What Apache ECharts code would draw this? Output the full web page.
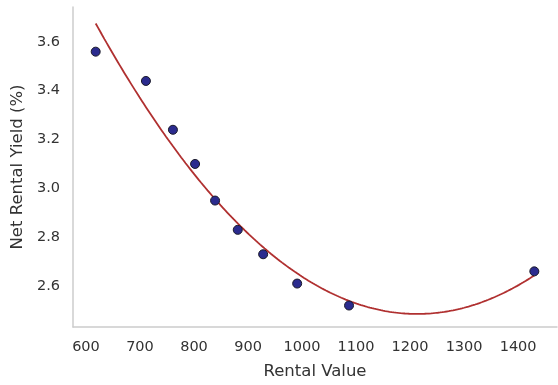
<!DOCTYPE html>
<html>
<head>
<meta charset="utf-8">
<script src="https://cdn.jsdelivr.net/npm/echarts@6/dist/echarts.min.js"></script>
<style>
  html, body { margin: 0; padding: 0; background: #fff; }
  #chart { width: 558px; height: 385px; }
</style>
</head>
<body>
<div id="chart"></div>
<script>
// Observed rental value vs. net rental yield
const rentalValue = [618, 711, 761, 802, 839, 881, 928, 991, 1087, 1430];
const netYield = [3.56, 3.44, 3.24, 3.10, 2.95, 2.83, 2.73, 2.61, 2.52, 2.66];
const yTicks = [2.6, 2.8, 3.0, 3.2, 3.4, 3.6];
const xTicks = [600, 700, 800, 900, 1000, 1100, 1200, 1300, 1400];

// Least-squares quadratic trend through the observations
function quadFit(xs, ys) {
  const n = xs.length;
  const m = xs.reduce((a, b) => a + b, 0) / n;
  const s = xs.map(x => (x - m) / 100);
  let S = [0, 0, 0, 0, 0], T = [0, 0, 0];
  for (let i = 0; i < n; i++) {
    for (let k = 0; k < 5; k++) S[k] += Math.pow(s[i], k);
    for (let k = 0; k < 3; k++) T[k] += ys[i] * Math.pow(s[i], k);
  }
  const A = [[S[0], S[1], S[2], T[0]], [S[1], S[2], S[3], T[1]], [S[2], S[3], S[4], T[2]]];
  for (let c = 0; c < 3; c++) {
    for (let r = c + 1; r < 3; r++) {
      const f = A[r][c] / A[c][c];
      for (let k = c; k < 4; k++) A[r][k] -= f * A[c][k];
    }
  }
  const coef = [0, 0, 0];
  for (let r = 2; r >= 0; r--) {
    let v = A[r][3];
    for (let k = r + 1; k < 3; k++) v -= A[r][k] * coef[k];
    coef[r] = v / A[r][r];
  }
  return x => { const t = (x - m) / 100; return coef[0] + coef[1] * t + coef[2] * t * t; };
}
const trend = quadFit(rentalValue, netYield);
const xLo = Math.min(...rentalValue), xHi = Math.max(...rentalValue);
const trendLine = [];
for (let i = 0; i <= 200; i++) {
  const x = xLo + (xHi - xLo) * i / 200;
  trendLine.push([x, trend(x)]);
}

const font = 'DejaVu Sans';
const chart = echarts.init(document.getElementById('chart'), null, { renderer: 'canvas' });
chart.setOption({
  animation: false,
  backgroundColor: '#ffffff',
  grid: { left: 73, right: 1, top: 7, bottom: 58, containLabel: false },
  xAxis: {
    type: 'value',
    min: 576, max: 1472,
    name: 'Rental Value',
    nameLocation: 'middle',
    nameGap: 36,
    nameTextStyle: { fontFamily: font, fontSize: 16.5, color: '#333333' },
    axisLine: { show: true, lineStyle: { color: '#cccccc', width: 1.5 } },
    axisTick: { show: false },
    splitLine: { show: false },
    axisLabel: {
      fontFamily: font, fontSize: 14.5, color: '#333333', margin: 13,
      customValues: xTicks,
      formatter: v => String(v)
    }
  },
  yAxis: {
    type: 'value',
    min: 2.432, max: 3.743,
    name: 'Net Rental Yield (%)',
    nameLocation: 'middle',
    nameGap: 47,
    nameTextStyle: { fontFamily: font, fontSize: 16.5, color: '#333333' },
    axisLine: { show: true, lineStyle: { color: '#cccccc', width: 1.5 } },
    axisTick: { show: false },
    splitLine: { show: false },
    axisLabel: {
      fontFamily: font, fontSize: 14.5, color: '#333333', margin: 13,
      customValues: yTicks,
      formatter: v => v.toFixed(1)
    }
  },
  series: [
    {
      type: 'line',
      data: trendLine,
      showSymbol: false,
      lineStyle: { color: '#b03030', width: 1.8 },
      z: 2
    },
    {
      type: 'scatter',
      data: rentalValue.map((x, i) => [x, netYield[i]]),
      symbolSize: 9,
      itemStyle: { color: '#2b2b8e', opacity: 1, borderColor: '#1a1a2a', borderWidth: 1 },
      z: 3
    }
  ]
});
</script>
</body>
</html>
